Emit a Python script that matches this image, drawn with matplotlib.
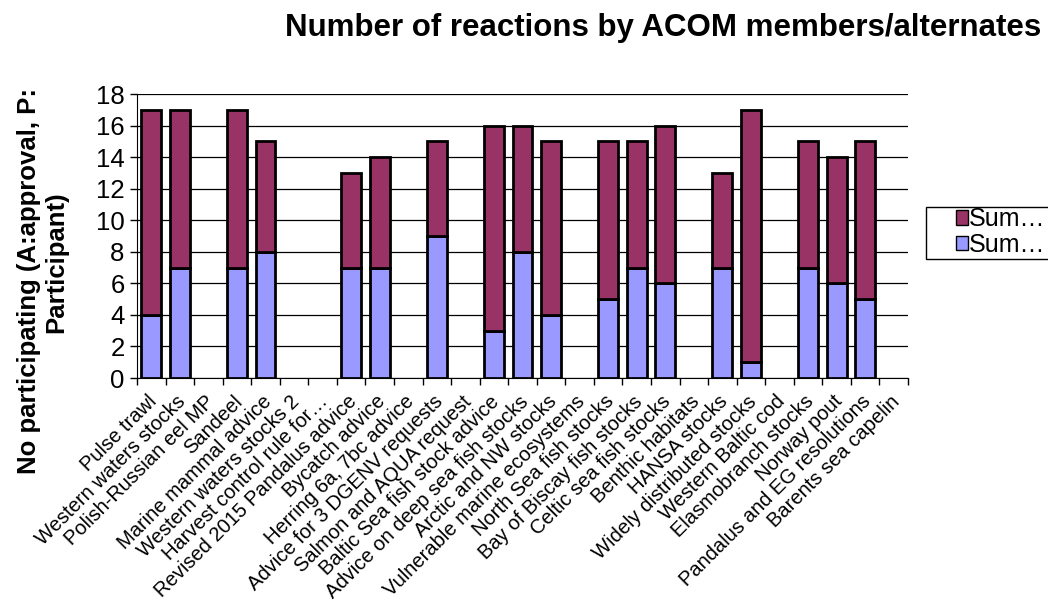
import numpy as np
import matplotlib
matplotlib.use("Agg")
import matplotlib.pyplot as plt
from matplotlib.patches import Patch, Rectangle
from matplotlib.transforms import ScaledTranslation

plt.rcParams['font.family'] = ['Liberation Sans', 'DejaVu Sans']

# categories (x axis)
categories = [
    "Pulse trawl", "Western waters stocks", "Polish-Russian eel MP", "Sandeel",
    "Marine mammal advice", "Western waters stocks 2", "Harvest control rule for\u2026",
    "Revised 2015 Pandalus advice", "Bycatch advice", "Herring 6a, 7bc advice",
    "Advice for 3 DGENV requests", "Salmon and AQUA request",
    "Baltic Sea fish stock advice", "Advice on deep sea fish stocks",
    "Arctic and NW stocks", "Vulnerable marine ecosystems", "North Sea fish stocks",
    "Bay of Biscay fish stocks", "Celtic sea fish stocks", "Benthic habitats",
    "HANSA stocks", "Widely distributed stocks", "Western Baltic cod",
    "Elasmobranch stocks", "Norway pout", "Pandalus and EG resolutions",
    "Barents sea capelin",
]

nan = np.nan
# lower series (blue) and upper series (purple); nan = no bar
sum_lower = [4, 7, nan, 7, 8, nan, nan, 7, 7, nan, 9, nan, 3, 8, 4, nan,
             5, 7, 6, nan, 7, 1, nan, 7, 6, 5, nan]
sum_upper = [13, 10, nan, 10, 7, nan, nan, 6, 7, nan, 6, nan, 13, 8, 11, nan,
             10, 8, 10, nan, 6, 16, nan, 8, 8, 10, nan]

legend_labels = ["Sum\u2026", "Sum\u2026"]
yticks = list(range(0, 19, 2))

purple = "#993366"
blue = "#9999ff"

W, H = 1048, 610
fig = plt.figure(figsize=(W / 100, H / 100), dpi=100)
ax = fig.add_axes([137 / W, 1 - 378 / H, (908 - 137) / W, (378 - 94) / H])

x = np.arange(len(categories))
lower = np.array(sum_lower, dtype=float)
upper = np.array(sum_upper, dtype=float)

ax.bar(x, lower, width=0.7, color=blue, edgecolor="black", linewidth=2, zorder=3)
ax.bar(x, upper, bottom=lower, width=0.7, color=purple, edgecolor="black",
       linewidth=2, zorder=3)

ax.set_xlim(-0.5, len(categories) - 0.5)
ax.set_ylim(0, 18)
ax.set_yticks(yticks)
ax.yaxis.grid(True, color="black", linewidth=0.9, zorder=0)
ax.set_axisbelow(True)

# tick marks between categories, labels at the centres
ax.set_xticks(np.arange(-0.5, len(categories), 1.0))
ax.set_xticklabels([])
ax.set_xticks(x, minor=True)
ax.set_xticklabels(categories, minor=True, rotation=45, ha="right",
                   va="top", rotation_mode="anchor", fontsize=14.5)
ax.tick_params(axis="x", which="minor", length=0, pad=10)
ax.tick_params(axis="x", which="major", length=5, width=1, direction="out")
ax.tick_params(axis="y", length=5, width=1, labelsize=18.5, pad=4)
shift = ScaledTranslation(-4 / 100, 0, fig.dpi_scale_trans)
for lab in ax.get_xticklabels(minor=True):
    lab.set_transform(lab.get_transform() + shift)

for s in ["top", "right"]:
    ax.spines[s].set_visible(False)

# y axis title, two lines as in the original
fig.text(29 / W, 1 - 281 / H, "No participating (A:approval, P:", rotation=90,
         ha="center", va="center", fontsize=18.5, fontweight="bold")
fig.text(56 / W, 1 - 262 / H, "Participant)", rotation=90,
         ha="center", va="center", fontsize=18.5, fontweight="bold")

fig.text(663 / W, 1 - 28 / H, "Number of reactions by ACOM members/alternates",
         ha="center", va="center", fontsize=22.5, fontweight="bold")

# legend (runs off the right edge in the original)
fig.patches.append(Rectangle((926 / W, 1 - 259 / H), 140 / W, 52 / H,
                             transform=fig.transFigure, facecolor="white",
                             edgecolor="black", linewidth=1, zorder=1))
handles = [Patch(facecolor=purple, edgecolor="black"),
           Patch(facecolor=blue, edgecolor="black")]
leg = fig.legend(handles, legend_labels, loc="lower left",
                 bbox_to_anchor=(953 / W, 1 - 259 / H), fontsize=18,
                 frameon=False, handlelength=0.5, handleheight=0.5,
                 handletextpad=0.05, borderpad=0.1, labelspacing=0.05,
                 borderaxespad=0)
leg.set_zorder(2)

fig.savefig("out.png", dpi=100)
